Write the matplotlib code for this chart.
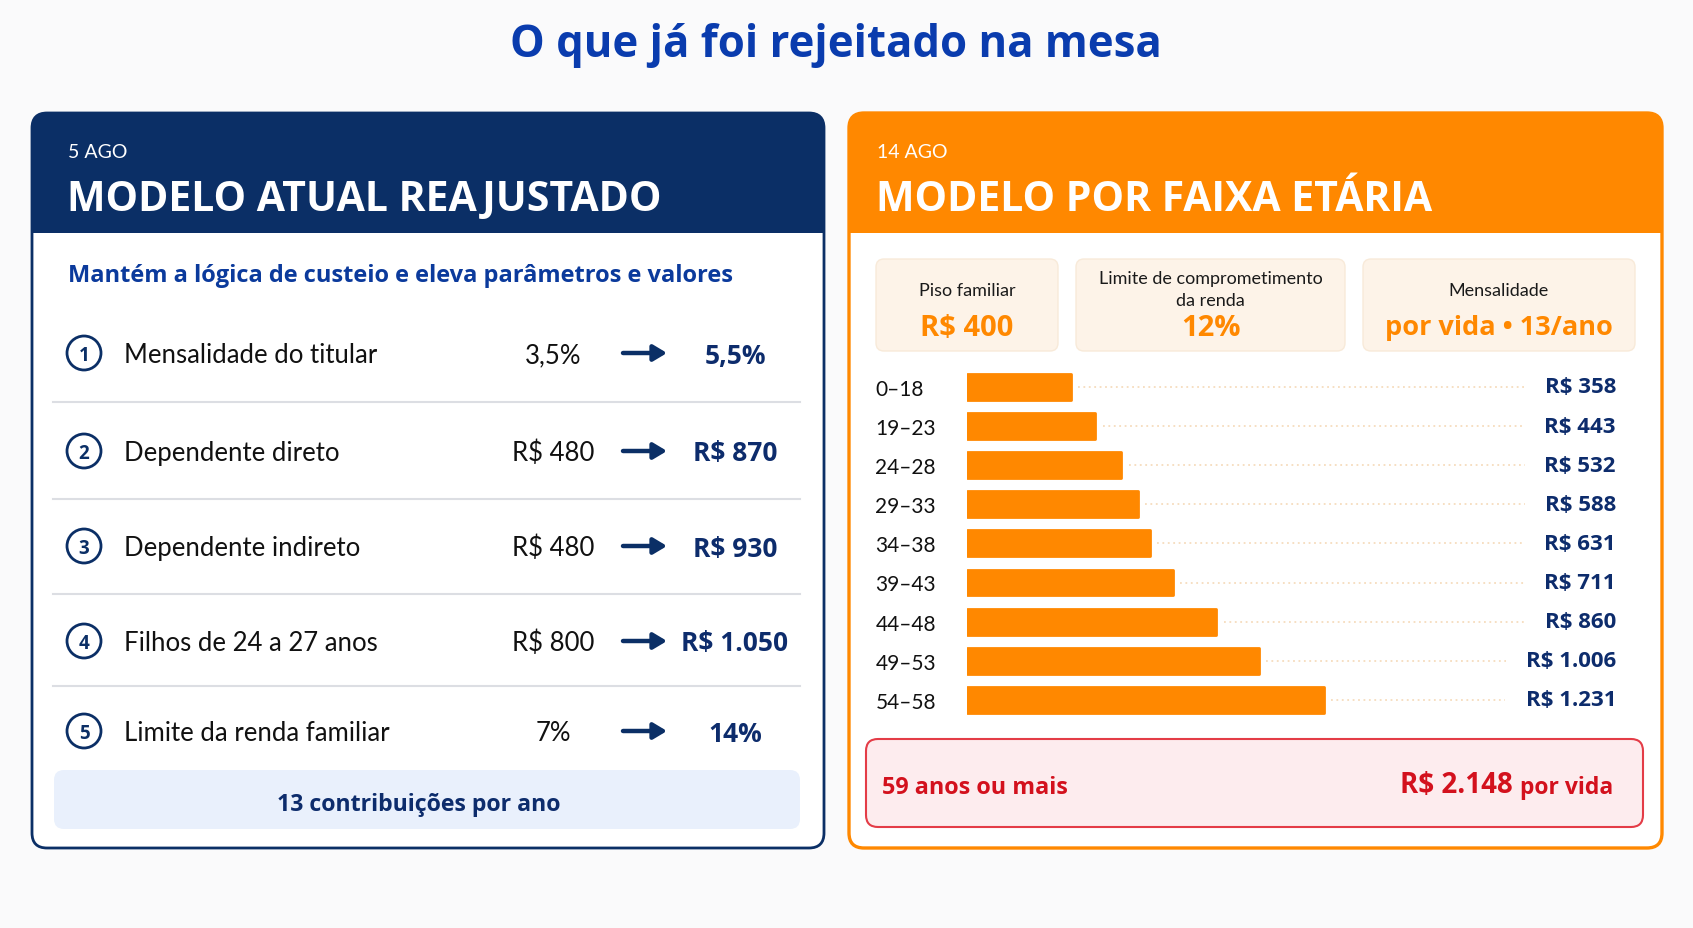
import matplotlib
matplotlib.use('Agg')
import matplotlib.pyplot as plt
from matplotlib.patches import FancyBboxPatch, Rectangle, Circle
from matplotlib.transforms import blended_transform_factory

plt.rcParams['font.family'] = ['Lato', 'DejaVu Sans']
BOLD_FONT = ['Open Sans', 'DejaVu Sans']

W, H = 1693, 929

# ── Data ──────────────────────────────────────────────────────────────────
title = "O que já foi rejeitado na mesa"

left_date = "5 AGO"
left_head = "MODELO ATUAL REAJUSTADO"
left_sub = "Mantém a lógica de custeio e eleva parâmetros e valores"
items = ["Mensalidade do titular", "Dependente direto", "Dependente indireto",
         "Filhos de 24 a 27 anos", "Limite da renda familiar"]
old_vals = ["3,5%", "R$ 480", "R$ 480", "R$ 800", "7%"]
new_vals = ["5,5%", "R$ 870", "R$ 930", "R$ 1.050", "14%"]
left_foot = "13 contribuições por ano"

right_date = "14 AGO"
right_head = "MODELO POR FAIXA ETÁRIA"
kpi_labels = [["Piso familiar"], ["Limite de comprometimento", "da renda"], ["Mensalidade"]]
kpi_values = ["R$ 400", "12%", "por vida • 13/ano"]
age_bands = ["0–18", "19–23", "24–28", "29–33", "34–38", "39–43", "44–48", "49–53", "54–58"]
band_values = [358, 443, 532, 588, 631, 711, 860, 1006, 1231]
top_band = "59 anos ou mais"
top_value = 2148
top_suffix = "por vida"

# ── Colours ───────────────────────────────────────────────────────────────
NAVY = '#0b2f66'
NAVY_TXT = '#0d2c6c'
TITLE_BLUE = '#0a3cae'
SUB_BLUE = '#0b3a9c'
ORANGE = '#ff8800'
PEACH = '#fdf3e8'
RED = '#d3111d'
PINK = '#fdecee'
RED_EDGE = '#e43c47'
LIGHT_BLUE = '#e9f0fc'


def brl(v):
    return "R$ " + f"{v:,}".replace(",", ".")


fig = plt.figure(figsize=(W / 100, H / 100), dpi=100, facecolor='#fafafb')
bg = fig.add_axes([0, 0, 1, 1])
bg.set_xlim(0, W)
bg.set_ylim(H, 0)
bg.axis('off')


def put(x, y, s, size, color, weight='normal', ha='left'):
    # y = vertical centre of the capitals (pixels from top)
    fam = BOLD_FONT if weight == 'bold' else None
    return bg.text(x, y + 0.36 * size * 100 / 72, s, fontsize=size, color=color,
                   fontweight=weight, family=fam, ha=ha, va='baseline', zorder=5)


def card(x0, y0, x1, y1, head_bottom, color, lw):
    r = 15
    bg.add_patch(FancyBboxPatch((x0, y0), x1 - x0, y1 - y0,
                                boxstyle=f"round,pad=0,rounding_size={r}",
                                fc='white', ec='none', zorder=1))
    bg.add_patch(FancyBboxPatch((x0, y0), x1 - x0, head_bottom - y0,
                                boxstyle=f"round,pad=0,rounding_size={r}",
                                fc=color, ec='none', zorder=2))
    bg.add_patch(Rectangle((x0, head_bottom - r - 2), x1 - x0, r + 2,
                           fc=color, ec='none', zorder=2))
    bg.add_patch(FancyBboxPatch((x0, y0), x1 - x0, y1 - y0,
                                boxstyle=f"round,pad=0,rounding_size={r}",
                                fc='none', ec=color, lw=lw, zorder=3))


# title
put(836, 41.5, title, 31.5, TITLE_BLUE, 'bold', ha='center')

# ── Left card ─────────────────────────────────────────────────────────────
card(32, 114, 824, 849, 234, NAVY, 2.0)
put(68, 151, left_date, 14, 'white')
put(67, 196, left_head, 29.5, 'white', 'bold')
put(68, 273, left_sub, 17, SUB_BLUE, 'bold')

row_y = [354, 452, 547, 642, 732]
for i, (lab, old, new) in enumerate(zip(items, old_vals, new_vals)):
    y = row_y[i]
    bg.add_patch(Circle((84, y), 17, fc='white', ec=NAVY, lw=2, zorder=4))
    put(84, y, str(i + 1), 13.5, NAVY, 'bold', ha='center')
    put(124, y, lab, 18.5, '#111111')
    put(553, y, old, 18.5, '#111111', ha='center')
    bg.annotate('', xy=(667, y), xytext=(623, y),
                arrowprops=dict(arrowstyle='-|>,head_length=0.5,head_width=0.3',
                                lw=3.2, color=NAVY, shrinkA=0, shrinkB=0,
                                mutation_scale=16), zorder=5)
    put(735, y, new, 19, NAVY_TXT, 'bold', ha='center')
    if i < len(items) - 1:
        sep = (row_y[i] + row_y[i + 1]) / 2
        bg.plot([53, 800], [sep, sep], color='#dcdee3', lw=1.5, zorder=4)

bg.add_patch(FancyBboxPatch((54, 771), 746, 59,
                            boxstyle="round,pad=0,rounding_size=10",
                            fc=LIGHT_BLUE, ec='none', zorder=4))
put(419, 803, left_foot, 16.7, NAVY_TXT, 'bold', ha='center')

# ── Right card ────────────────────────────────────────────────────────────
card(849, 114, 1662, 849, 234, ORANGE, 2.4)
put(877, 151, right_date, 14, 'white')
put(876, 196, right_head, 29.5, 'white', 'bold')

kpi_box = [(876, 1058), (1076, 1345), (1363, 1635)]
kpi_size = [21, 21, 19.5]
for (x0, x1), labs, val, sz in zip(kpi_box, kpi_labels, kpi_values, kpi_size):
    bg.add_patch(FancyBboxPatch((x0, 260), x1 - x0, 92,
                                boxstyle="round,pad=0,rounding_size=8",
                                fc=PEACH, ec='#f8ead9', lw=1, zorder=4))
    xc = (x0 + x1) / 2
    if len(labs) == 1:
        put(xc, 289, labs[0], 13, '#1a1a1a', ha='center')
    else:
        put(xc, 277, labs[0], 13, '#1a1a1a', ha='center')
        put(xc, 299, labs[1], 13, '#1a1a1a', ha='center')
    put(xc, 325, val, sz, ORANGE, 'bold', ha='center')

# bar chart of monthly fee per age band
k = 0.29           # pixels per R$
xmax = 2000
step = 39.1
n = len(age_bands)
ax_left, ax_top = 967, 388 - step / 2
ax = fig.add_axes([ax_left / W, 1 - (ax_top + n * step) / H, xmax * k / W, n * step / H])
ax.set_facecolor('none')
ax.set_xlim(0, xmax)
ax.set_ylim(n - 0.5, -0.5)
ax.barh(range(n), band_values, height=0.66, color=ORANGE, edgecolor=ORANGE,
        linewidth=2, joinstyle='round', zorder=3)
ax.set_yticks(range(n), labels=age_bands)
for t in ax.get_yticklabels():
    t.set_ha('left')
ax.tick_params(axis='y', length=0, pad=66, labelsize=15, labelcolor='#111111')
ax.set_xticks([])
for s in ax.spines.values():
    s.set_visible(False)

mix = blended_transform_factory(bg.transData, ax.transData)
val_txt = []
for i, v in enumerate(band_values):
    val_txt.append(ax.text(1616, i, brl(v), transform=mix, ha='right', va='center',
                           fontsize=16, fontweight='bold', family=BOLD_FONT,
                           color=NAVY_TXT))

fig.canvas.draw()
inv = ax.transData.inverted()
for i, (v, t) in enumerate(zip(band_values, val_txt)):
    x_end = inv.transform((t.get_window_extent().x0 - 20, 0))[0]
    ax.plot([v + 25, x_end], [i, i], color='#f6dcbd', lw=1.3, ls=(0, (1, 2)), zorder=2)

# 59+ highlight
bg.add_patch(FancyBboxPatch((866, 740), 777, 88,
                            boxstyle="round,pad=0,rounding_size=12",
                            fc=PINK, ec=RED_EDGE, lw=1.5, zorder=4))
put(882, 786, top_band, 16.8, RED, 'bold')
t_suf = put(1613, 786, top_suffix, 16.5, RED, 'bold', ha='right')
bg.annotate(brl(top_value) + " ", xy=(0, 0), xycoords=t_suf, ha='right', va='bottom',
            fontsize=20, fontweight='bold', family=BOLD_FONT, color=RED, zorder=5)

fig.savefig('out.png', dpi=100, facecolor=fig.get_facecolor())
